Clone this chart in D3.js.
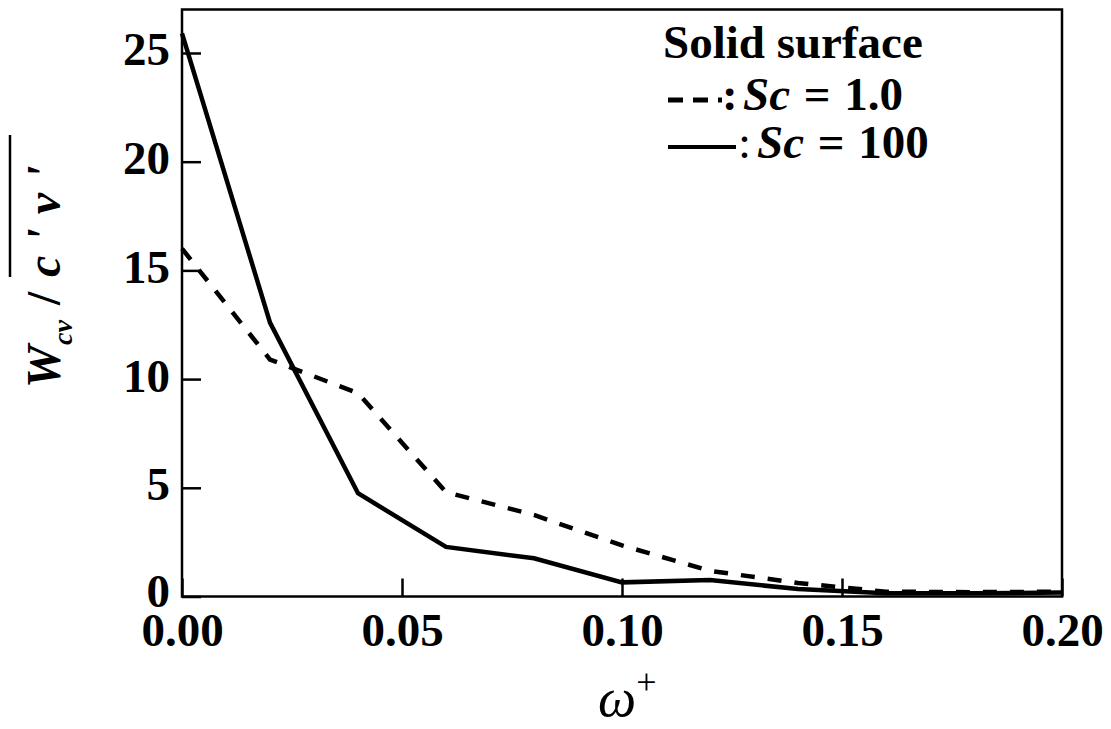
<!DOCTYPE html>
<html>
<head>
<meta charset="utf-8">
<script src="https://cdn.jsdelivr.net/npm/d3@7"></script>
<style>
  body { margin: 0; background: #fff; }
  svg { font-family: "Liberation Serif", "Times New Roman", serif; }
</style>
</head>
<body>
<div id="chart"></div>
<script>
// omega+ values
const omega = [0.00, 0.02, 0.04, 0.06, 0.08, 0.10, 0.12, 0.14, 0.16, 0.18, 0.20];
// Sc = 1.0 (dashed)
const sc1 = [16.0, 10.9, 9.35, 4.8, 3.75, 2.35, 1.18, 0.62, 0.22, 0.2, 0.22];
// Sc = 100 (solid)
const sc100 = [25.9, 12.6, 4.75, 2.28, 1.76, 0.65, 0.76, 0.34, 0.15, 0.15, 0.18];

const xTicks = [0, 0.05, 0.10, 0.15, 0.20];
const yTicks = [0, 5, 10, 15, 20, 25];

const width = 1111, height = 729;
const margin = {top: 9.5, right: 49, bottom: 132.5, left: 182};

const svg = d3.select("#chart").append("svg")
    .attr("width", width)
    .attr("height", height);

const x = d3.scaleLinear().domain([0, 0.2]).range([margin.left, width - margin.right]);
const y = d3.scaleLinear().domain([0, 27]).range([height - margin.bottom, margin.top]);

// y axis, ticks pointing inward
const yAxis = d3.axisLeft(y).tickValues(yTicks).tickSize(-19).tickPadding(12);
const gy = svg.append("g")
    .attr("transform", `translate(${margin.left},0)`)
    .call(yAxis);
gy.select(".domain").remove();
gy.selectAll("line").attr("stroke", "#000").attr("stroke-width", 2.5);
gy.selectAll("text")
    .attr("dy", d => d === 0 ? 10 : 12)
    .attr("fill", "#000")
    .style("font-size", "47px")
    .style("font-weight", "bold")
    .style("font-family", "Liberation Serif, serif");

// x axis
const xAxis = d3.axisBottom(x).tickValues(xTicks).tickSize(-18).tickFormat(d3.format(".2f"));
const gx = svg.append("g")
    .attr("transform", `translate(0,${y(0)})`)
    .call(xAxis);
gx.select(".domain").remove();
gx.selectAll("line").attr("stroke", "#000").attr("stroke-width", 2.5);
gx.selectAll("text")
    .attr("y", 49)
    .attr("dy", 0)
    .attr("fill", "#000")
    .style("font-size", "47px")
    .style("font-weight", "bold")
    .style("font-family", "Liberation Serif, serif");

// frame
svg.append("rect")
    .attr("x", x(0)).attr("y", y(27))
    .attr("width", x(0.2) - x(0)).attr("height", y(0) - y(27))
    .attr("fill", "none").attr("stroke", "#000").attr("stroke-width", 2.5);

// lines
const line = d3.line().x((d, i) => x(omega[i])).y(d => y(d));

svg.append("path")
    .datum(sc1)
    .attr("d", line)
    .attr("fill", "none")
    .attr("stroke", "#000")
    .attr("stroke-width", 4.5)
    .attr("stroke-dasharray", "14,13");

svg.append("path")
    .datum(sc100)
    .attr("d", line)
    .attr("fill", "none")
    .attr("stroke", "#000")
    .attr("stroke-width", 4.5);

// legend
const leg = svg.append("g").style("font-size", "47px").style("font-weight", "bold");
leg.append("text").attr("x", 663).attr("y", 58).text("Solid surface");

leg.append("line")
    .attr("x1", 668).attr("x2", 722).attr("y1", 100).attr("y2", 100)
    .attr("stroke", "#000").attr("stroke-width", 5).attr("stroke-dasharray", "15,10");
const t2 = leg.append("text").attr("x", 722).attr("y", 110).style("word-spacing", "2px");
t2.append("tspan").text(":");
t2.append("tspan").attr("x", 743).style("font-style", "italic").text("Sc");
t2.append("tspan").text(" = 1.0");

leg.append("line")
    .attr("x1", 668).attr("x2", 736).attr("y1", 147).attr("y2", 147)
    .attr("stroke", "#000").attr("stroke-width", 4);
const t3 = leg.append("text").attr("x", 738).attr("y", 158).style("word-spacing", "2px");
t3.append("tspan").style("font-weight", "normal").text(":");
t3.append("tspan").attr("x", 757).style("font-style", "italic").text("Sc");
t3.append("tspan").text(" = 100");

// x axis title
const xt = svg.append("text").attr("x", 598).attr("y", 716).style("font-size", "54px");
xt.append("tspan").style("font-style", "italic").text("ω");
xt.append("tspan").attr("dy", -22).style("font-size", "36px").text("+");

// y axis title (rotated)
const yl = svg.append("g").attr("transform", "translate(60,388) rotate(-90)");
const yt = yl.append("text").style("font-size", "48px").style("font-weight", "bold");
yt.append("tspan").attr("x", 0).style("font-style", "italic").text("W");
yt.append("tspan").attr("x", 43).attr("dy", 12).style("font-style", "italic").style("font-size", "28px").text("cv");
yt.append("tspan").attr("x", 83).attr("dy", -12).text("/");
yt.append("tspan").attr("x", 111).style("font-style", "italic").style("letter-spacing", "14px").text("c'v'");
yl.append("line")
    .attr("x1", 111).attr("x2", 253).attr("y1", -50).attr("y2", -50)
    .attr("stroke", "#000").attr("stroke-width", 2.5);
</script>
</body>
</html>
